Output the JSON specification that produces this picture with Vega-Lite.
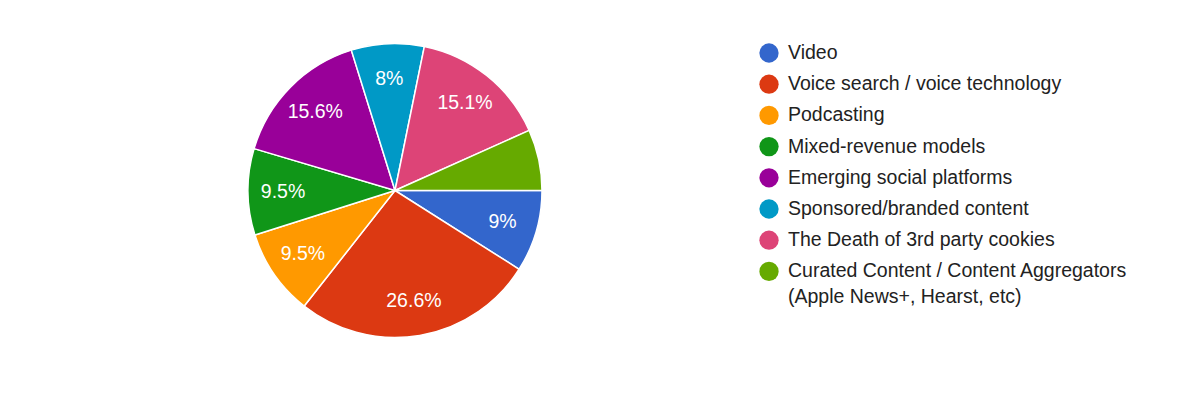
{
  "$schema": "https://vega.github.io/schema/vega-lite/v6.json",
  "width": 790,
  "height": 381,
  "padding": 0,
  "background": "white",
  "config": {"view": {"stroke": null}, "font": "Liberation Sans", "style": {"guide-label": {"lineHeight": 26}}},
  "data": {"values": [
    {"i": 1, "cat": "Video", "pct": 0.09},
    {"i": 2, "cat": "Voice search / voice technology", "pct": 0.266},
    {"i": 3, "cat": "Podcasting", "pct": 0.095},
    {"i": 4, "cat": "Mixed-revenue models", "pct": 0.095},
    {"i": 5, "cat": "Emerging social platforms", "pct": 0.156},
    {"i": 6, "cat": "Sponsored/branded content", "pct": 0.08},
    {"i": 7, "cat": "The Death of 3rd party cookies", "pct": 0.151},
    {"i": 8, "cat": "Curated Content / Content Aggregators (Apple News+, Hearst, etc)", "pct": 0.067}
  ]},
  "encoding": {
    "theta": {"field": "pct", "type": "quantitative", "stack": true, "scale": {"range": [1.5707963, 7.8539816]}},
    "order": {"field": "i", "type": "quantitative"}
  },
  "layer": [
    {
      "mark": {"type": "arc", "outerRadius": 147, "stroke": "white", "strokeWidth": 1.5},
      "encoding": {
        "color": {
          "field": "cat", "type": "nominal", "sort": null,
          "scale": {
            "domain": ["Video", "Voice search / voice technology", "Podcasting", "Mixed-revenue models", "Emerging social platforms", "Sponsored/branded content", "The Death of 3rd party cookies", "Curated Content / Content Aggregators (Apple News+, Hearst, etc)"],
            "range": ["#3366cc", "#dc3912", "#ff9900", "#109618", "#990099", "#0099c6", "#dd4477", "#66aa00"]
          },
          "legend": {
            "title": null,
            "orient": "none",
            "legendX": 759,
            "legendY": 43,
            "symbolType": "circle",
            "symbolSize": 372,
            "symbolStrokeWidth": 0,
            "labelFont": "Liberation Sans",
            "labelFontSize": 19.5,
            "labelColor": "#222222",
            "labelLimit": 500,
            "labelOffset": 9,
            "rowPadding": 11.2,
            "labelBaseline": "middle",
            "labelExpr": "datum.label == 'Curated Content / Content Aggregators (Apple News+, Hearst, etc)' ? ['Curated Content / Content Aggregators', '(Apple News+, Hearst, etc)'] : datum.label",
            "encode": {"labels": {"update": {"lineHeight": {"value": 26}}}}
          }
        }
      }
    },
    {
      "mark": {"type": "text", "radius": 112, "fill": "white", "fontSize": 19.5, "font": "Liberation Sans", "align": "center", "baseline": "middle"},
      "encoding": {
        "detail": {"field": "cat", "type": "nominal"},
        "text": {
          "condition": {"test": "datum.pct < 0.07", "value": ""},
          "field": "pct", "type": "quantitative", "format": ".1~%"
        }
      }
    }
  ]
}
